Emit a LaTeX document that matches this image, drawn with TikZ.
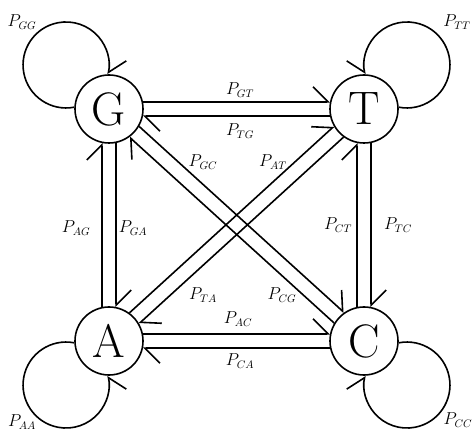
\documentclass[tikz,border=0pt]{standalone}
\usetikzlibrary{arrows.meta}
\begin{document}
\begin{tikzpicture}[x=1pt,y=1pt,
  state/.style={circle, draw, line width=1.6pt, minimum size=68pt, inner sep=0pt, font=\fontsize{47}{47}\selectfont},
  hl/.style={line width=1.6pt, -{Straight Barb[left, length=15pt, width=30pt]}},
  hr/.style={line width=1.6pt, -{Straight Barb[right, length=15pt, width=30pt]}},
  lab/.style={font=\fontsize{16}{16}\selectfont, inner sep=0pt}]
\useasboundingbox (0,0) rectangle (473,436);
\node[state] (G) at (109,327) {G};
\node[state] (T) at (364,327) {T};
\node[state] (A) at (109,95) {A};
\node[state] (C) at (364,95) {C};
% horizontal
\draw[hl] (G.12) -- (T.168);
\draw[hl] (T.192) -- (G.348);
\draw[hl] (A.12) -- (C.168);
\draw[hl] (C.192) -- (A.348);
% vertical
\draw[hl] (A.102) -- (G.258);
\draw[hl] (G.282) -- (A.78);
\draw[hl] (C.102) -- (T.258);
\draw[hl] (T.282) -- (C.78);
% diagonals
\draw[hl] (G.-30.3) -- (C.125.7);
\draw[hl] (C.149.7) -- (G.-54.3);
\draw[hl] (A.54.3) -- (T.210.3);
\draw[hl] (T.234.3) -- (A.30.3);
% loops
\draw[hl] (G.177) arc[start angle=-79, end angle=-372.4, radius=43pt];
\draw[hr] (T.3) arc[start angle=259, end angle=552.4, radius=43pt];
\draw[hr] (A.183) arc[start angle=79, end angle=372.4, radius=43pt];
\draw[hl] (C.357) arc[start angle=101, end angle=-192.4, radius=43pt];
% labels
\node[lab] (lgg) at (22,414) {$P_{GG}$};
\node[lab] (ltt) at (457,414) {$P_{TT}$};
\node[lab] (laa) at (22,14) {$P_{AA}$};
\node[lab] (lcc) at (458,16) {$P_{CC}$};
\node[lab] (lgt) at (240,346) {$P_{GT}$};
\node[lab] (ltg) at (240,305) {$P_{TG}$};
\node[lab] (lag) at (76,208) {$P_{AG}$};
\node[lab] (lga) at (133,208) {$P_{GA}$};
\node[lab] (lct) at (338,211) {$P_{CT}$};
\node[lab] (ltc) at (398,211) {$P_{TC}$};
\node[lab] (lgc) at (203,274) {$P_{GC}$};
\node[lab] (lat) at (273,274) {$P_{AT}$};
\node[lab] (lta) at (203,141) {$P_{TA}$};
\node[lab] (lcg) at (282,141) {$P_{CG}$};
\node[lab] (lac) at (238,117) {$P_{AC}$};
\node[lab] (lca) at (240,75) {$P_{CA}$};
\end{tikzpicture}
\end{document}
